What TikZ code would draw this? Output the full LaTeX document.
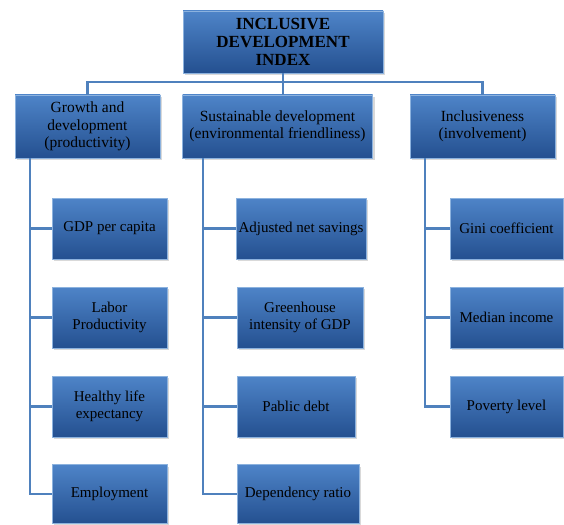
\documentclass[tikz,border=0pt]{standalone}
\usepackage{fontspec}
\setmainfont{Liberation Serif}
\usetikzlibrary{calc,shadows}
\definecolor{boxtop}{RGB}{78,132,200}
\definecolor{boxbot}{RGB}{36,80,144}
\definecolor{boxrim}{RGB}{140,178,222}
\definecolor{linkblue}{RGB}{79,129,189}

\begin{document}
\begin{tikzpicture}
[x=1pt,y=-1pt,
box/.style={draw=boxrim,line width=0.8pt,top color=boxtop,bottom color=boxbot,align=center,inner sep=0pt,
  font=\fontsize{15.5}{17.5}\selectfont,drop shadow={opacity=0.3,shadow xshift=2pt,shadow yshift=-2pt}},
leaf/.style={box,minimum height=61,font=\fontsize{15}{17}\selectfont},
link/.style={draw=linkblue,line width=2.2pt},]

\useasboundingbox (0,0) rectangle (564,524);

%Row heights
\def\ra{228.5}
\def\rb{317.5}
\def\rc{406.5}
\def\rd{494}

%Index
\node (idx) at (283,42)[box,minimum width=200,minimum height=62,font=\fontsize{17}{18}\selectfont\bfseries] {INCLUSIVE\\DEVELOPMENT\\INDEX};

%Pillars
\node (grow) at (87.5,126.5)[box,minimum width=145,minimum height=63] {Growth and\\development\\(productivity)};
\node (sust) at (277.5,126.5)[box,minimum width=190,minimum height=63] {Sustainable development\\(environmental friendliness)};
\node (incl) at (482.5,126.5)[box,minimum width=145,minimum height=63] {Inclusiveness\\(involvement)};

%Indicators, growth
\node (gdp) at (109.5,\ra)[leaf,minimum width=115] {GDP per capita};
\node (lab) at (109.5,\rb)[leaf,minimum width=115] {Labor\\Productivity};
\node (hle) at (109.5,\rc)[leaf,minimum width=115] {Healthy life\\expectancy};
\node (emp) at (109.5,\rd)[leaf,minimum width=115,minimum height=59] {Employment};

%Indicators, sustainability
\node (ans) at (301,\ra)[leaf,minimum width=130] {Adjusted net savings};
\node (ghg) at (300,\rb)[leaf,minimum width=126] {Greenhouse\\intensity of GDP};
\node (debt) at (296,\rc)[leaf,minimum width=118] {Pablic debt};
\node (dep) at (298,\rd)[leaf,minimum width=122,minimum height=59] {Dependency ratio};

%Indicators, inclusiveness
\node (gini) at (506.5,\ra)[leaf,minimum width=113] {Gini coefficient};
\node (med) at (506.5,\rb)[leaf,minimum width=113] {Median income};
\node (pov) at (506.5,\rc)[leaf,minimum width=113] {Poverty level};

%Bus
\coordinate (bus) at (283,82);
\coordinate (gs) at ($(grow.south west)+(15,0)$);
\coordinate (ss) at ($(sust.south west)+(21,0)$);
\coordinate (is) at ($(incl.south west)+(15,0)$);

%Connectors
\draw[link] (grow.north) |- (bus) -| (incl.north);
\draw[link] (idx.south) -- (idx.south |- sust.north);

\draw[link] (gs) |- (emp.west);
\draw[link] (gs |- gdp.west) -- (gdp.west);
\draw[link] (gs |- lab.west) -- (lab.west);
\draw[link] (gs |- hle.west) -- (hle.west);

\draw[link] (ss) |- (dep.west);
\draw[link] (ss |- ans.west) -- (ans.west);
\draw[link] (ss |- ghg.west) -- (ghg.west);
\draw[link] (ss |- debt.west) -- (debt.west);

\draw[link] (is) |- (pov.west);
\draw[link] (is |- gini.west) -- (gini.west);
\draw[link] (is |- med.west) -- (med.west);

%
\end{tikzpicture}
\end{document}
